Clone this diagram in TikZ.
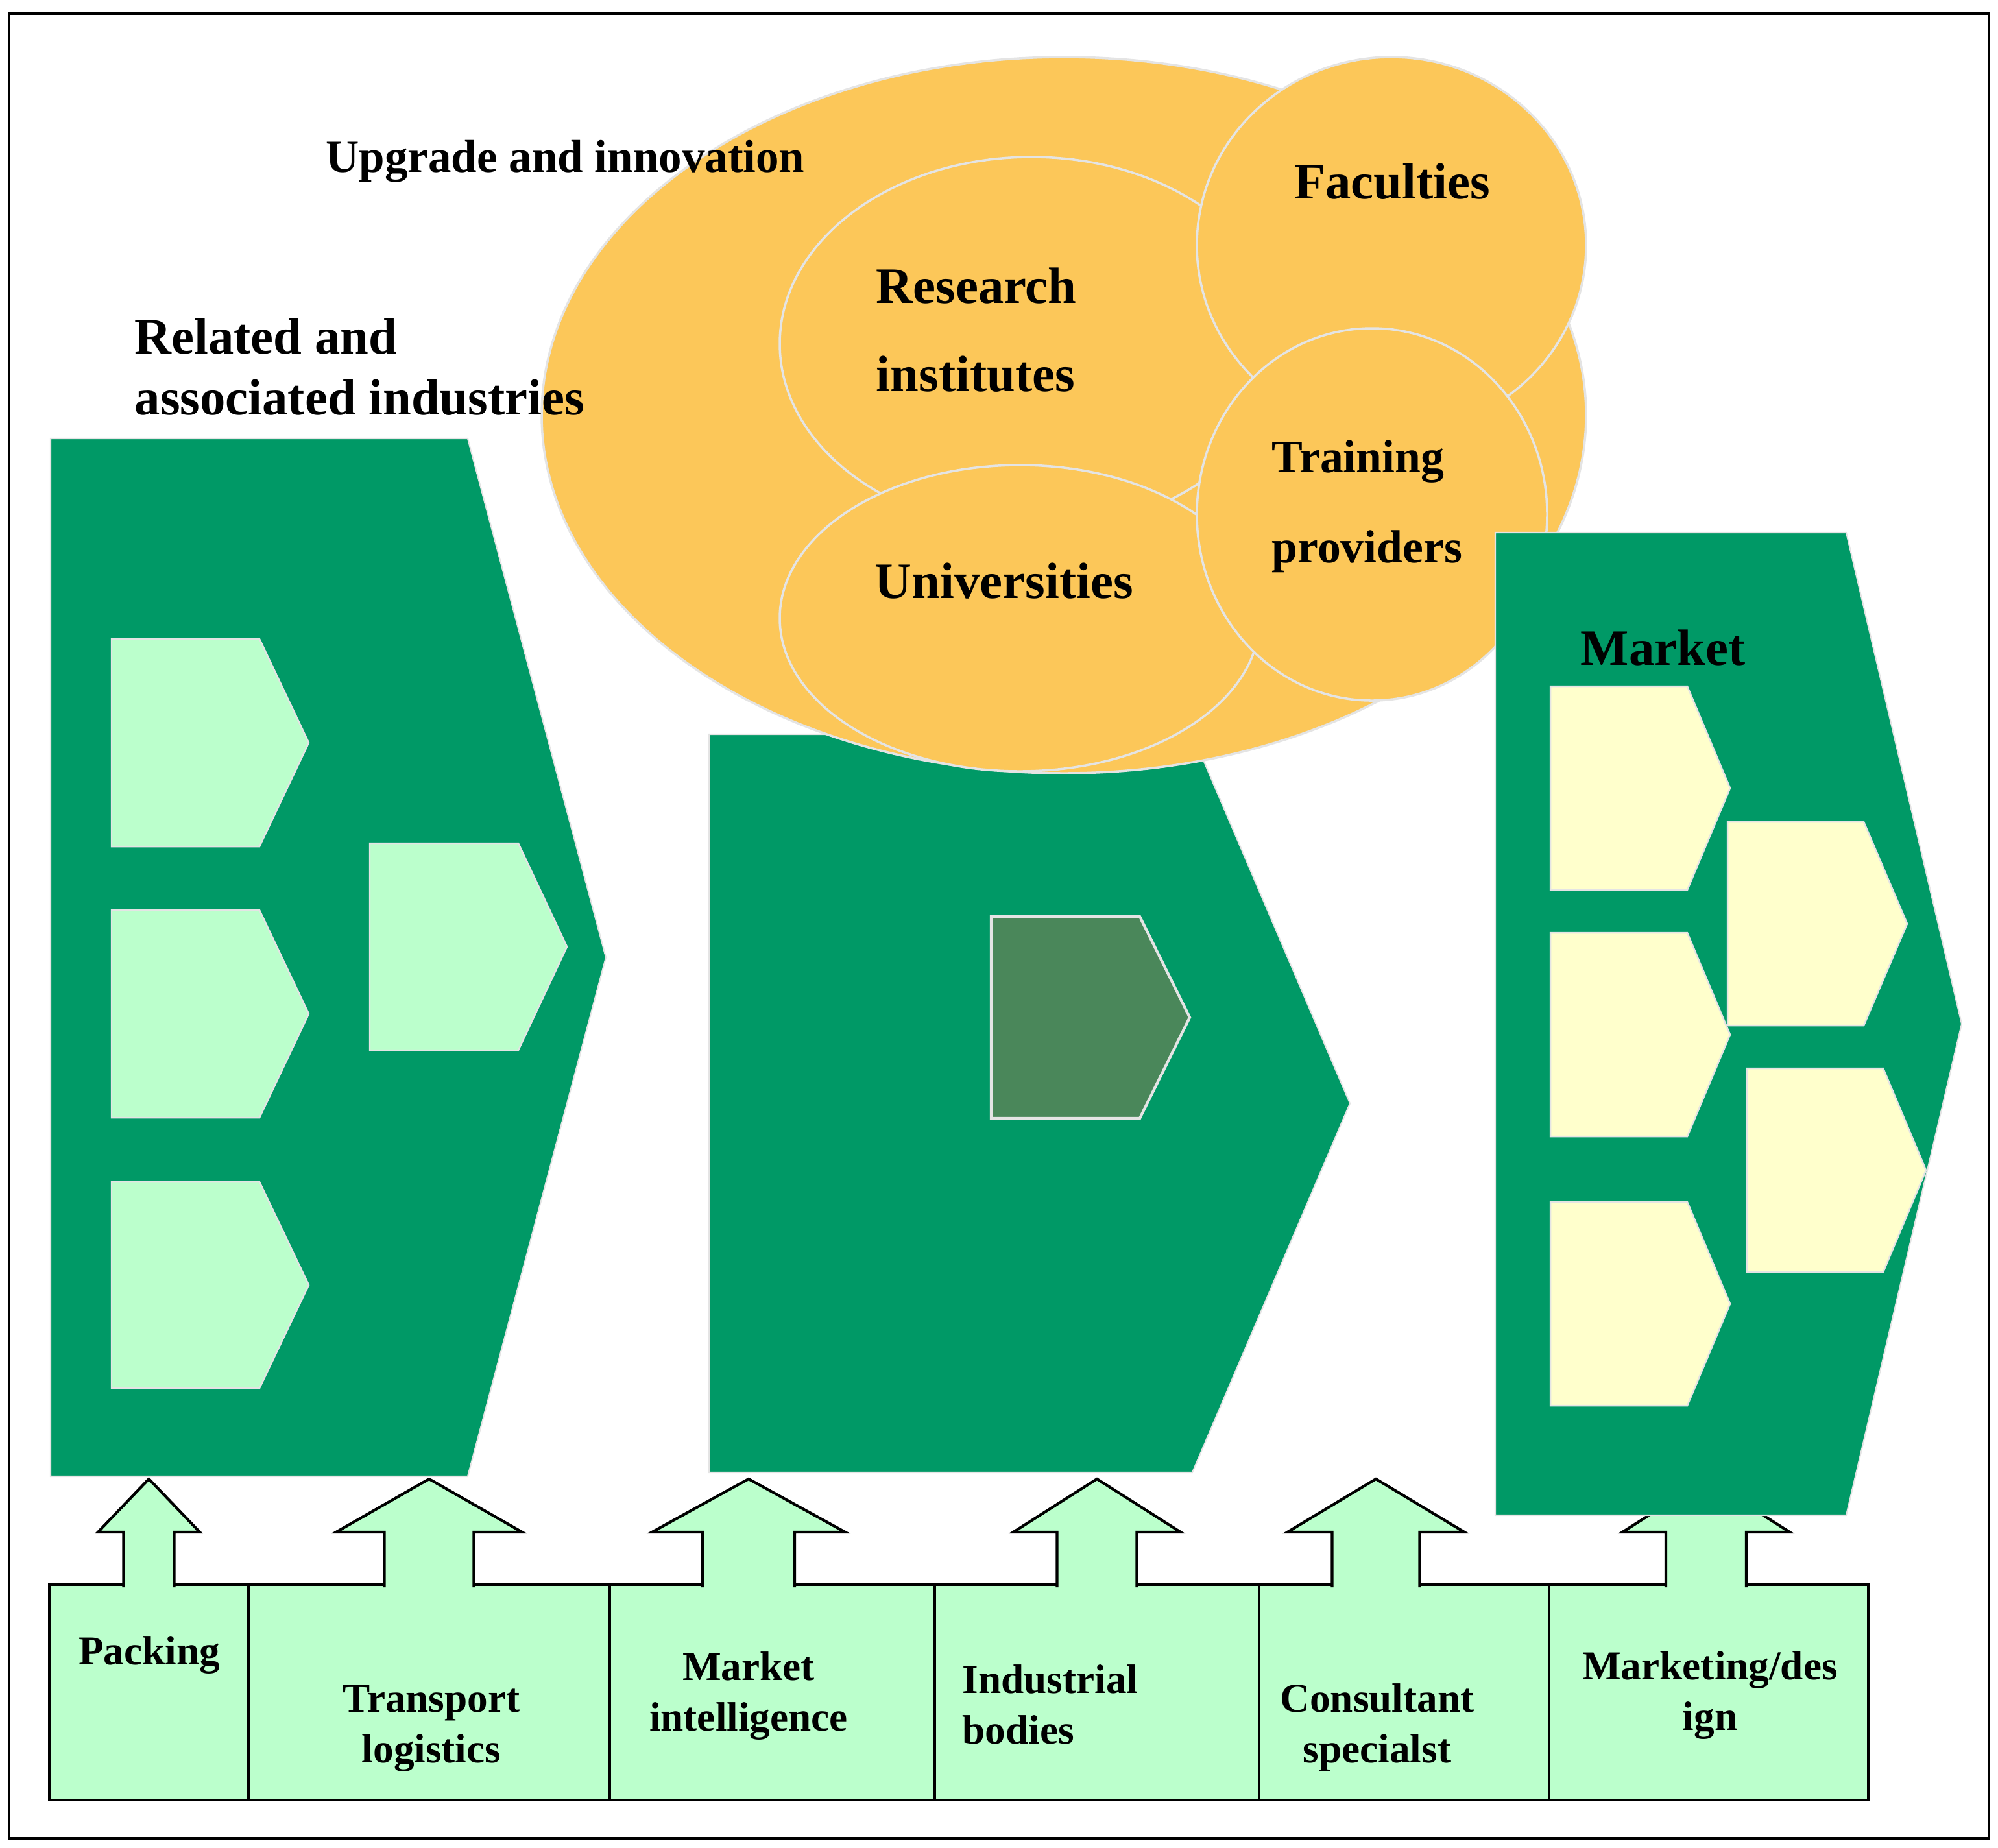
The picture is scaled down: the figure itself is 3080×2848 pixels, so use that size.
\documentclass[tikz,border=0pt]{standalone}
\usepackage{fontspec}
\setmainfont{Liberation Serif}
\usetikzlibrary{shapes,positioning}

\definecolor{chev}{RGB}{0,153,102}
\definecolor{mintgreen}{RGB}{187,255,204}
\definecolor{cream}{RGB}{255,255,204}
\definecolor{amber}{RGB}{252,199,89}
\definecolor{moss}{RGB}{74,135,90}
\definecolor{rim}{RGB}{228,228,228}

\begin{document}
\begin{tikzpicture}[%
    ,x=0.1mm,y=-0.1mm
    ,chevron/.style = {fill=chev, draw=rim, line width=0.6pt}
    ,tab/.style = {draw=rim, line width=0.7pt}
    ,blob/.style = {%
        ,ellipse
        ,fill=amber
        ,draw=rim
        ,line width=1pt
        ,inner sep=0pt
        }
    ,cell/.style = {%
        ,draw
        ,fill=mintgreen
        ,line width=1.2pt
        ,minimum height=33.2mm
        ,anchor=north west
        ,inner sep=0pt,outer sep=0pt
        }
    ,uparrow/.style = {fill=mintgreen, draw, line width=1.2pt}
    ,head/.style = {inner sep=0pt, align=left, font=\bfseries\fontsize{22.4}{38.7}\selectfont}
    ,foot/.style = {inner sep=0pt, align=center, font=\bfseries\fontsize{18}{22.2}\selectfont}
    ]
\useasboundingbox (0,0) rectangle (3080,2848);
\draw[line width=0.9pt] (14,21) rectangle (3066,2834);

% Supporting services along the bottom
\foreach \nm/\x/\w in {pack/76/30.7, trans/383/55.7, intel/940/50.1, ind/1441/50.0, cons/1941/44.7, mkt/2388/49.2}
    \node (\nm) [cell, minimum width=\w mm] at (\x,2443) {};

\foreach \nm/\dx/\s/\h in {pack/0/39/78.5, trans/0/69/143.5, intel/-36.5/71/149, ind/0/61.5/129, cons/-43.5/67.5/136.5, mkt/-4/62/129}
    \filldraw[uparrow] (\nm.north) ++(\dx-\s,4) -- ++(0,-85) -- ++(\s-\h,0)
        -- ++(\h,-82) -- ++(\h,82) -- ++(\s-\h,0) -- ++(0,85);

% Related industries and the core
\foreach \x/\y/\w/\d/\h in {78/676/643/213/1600, 1093/1132/745/243/1138}
    \filldraw[chevron] (\x,\y) -- ++(\w,0) -- ++(\d,\h/2) -- ++(-\d,\h/2) -- ++(-\w,0) -- cycle;
\foreach \x/\y/\h in {172/985/320, 172/1403/320, 172/1822/318}
    \filldraw[tab, fill=mintgreen] (\x,\y) -- ++(228,0) -- ++(76,\h/2) -- ++(-76,\h/2) -- ++(-228,0) -- cycle;
\filldraw[tab, fill=mintgreen] (570,1300) -- ++(229,0) -- ++(75,159.5) -- ++(-75,159.5) -- ++(-229,0) -- cycle;
\filldraw[draw=rim, line width=1.2pt, fill=moss] (1528,1413) -- ++(229,0) -- ++(77,155.5) -- ++(-77,155.5) -- ++(-229,0) -- cycle;

% Upgrade and innovation
\node (upg) [blob, minimum width=161mm, minimum height=110.4mm] at (1640,640) {};
\node (res) [blob, minimum width=77.6mm, minimum height=57.6mm] at (1590,530) {};
\node (uni) [blob, minimum width=74mm, minimum height=47.2mm] at (1572,953) {};
\node (fac) [blob, minimum width=60mm, minimum height=58mm] at (2145,378) {};
\node (trn) [blob, minimum width=54mm, minimum height=57.4mm] at (2115,793) {};

% Market
\filldraw[chevron] (2305,821) -- ++(541,0) -- ++(178,757.5) -- ++(-178,757.5) -- ++(-541,0) -- cycle;
\foreach \x/\y/\w/\d in {2390/1058/211/66, 2390/1438/211/66, 2390/1853/211/66, 2663/1267/210/67, 2693/1647/210/66}
    \filldraw[tab, fill=cream] (\x,\y) -- ++(\w,0) -- ++(\d,157) -- ++(-\d,157) -- ++(-\w,0) -- cycle;

% labels (base = last line)
\node (mktlbl) [head, anchor=base west] at (2436,1025) {Market};
\node (upglbl) [head, anchor=base west, font=\bfseries\fontsize{20.2}{24}\selectfont] at (502,265) {Upgrade and innovation};
\node (rel) [head, anchor=base west, font=\bfseries\fontsize{22.4}{26.5}\selectfont] at (207,639) {Related and\\associated industries};
\node (reslbl) [head, anchor=base west] at (1350,603) {Research\\institutes};
\node (faclbl) [head, anchor=base] at (2146,306) {Faculties};
\node (unilbl) [head, anchor=base west] at (1348,922) {Universities};
\node (trnlbl) [head, anchor=base west, font=\bfseries\fontsize{20.4}{39.5}\selectfont] at (1960,867) {Training\\providers};

\node (packlbl) [foot, anchor=base] at (230,2566) {Packing};
\node (translbl) [foot, anchor=base] at (665,2717) {Transport\\logistics};
\node (intellbl) [foot, anchor=base] at (1154,2668) {Market\\intelligence};
\node (indlbl) [foot, anchor=base west, align=left] at (1483,2688) {Industrial\\bodies};
\node (conslbl) [foot, anchor=base] at (2123,2717) {Consultant\\specialst};
\node (mktglbl) [foot, anchor=base] at (2636,2667) {Marketing/des\\ign};
\end{tikzpicture}
\end{document}
